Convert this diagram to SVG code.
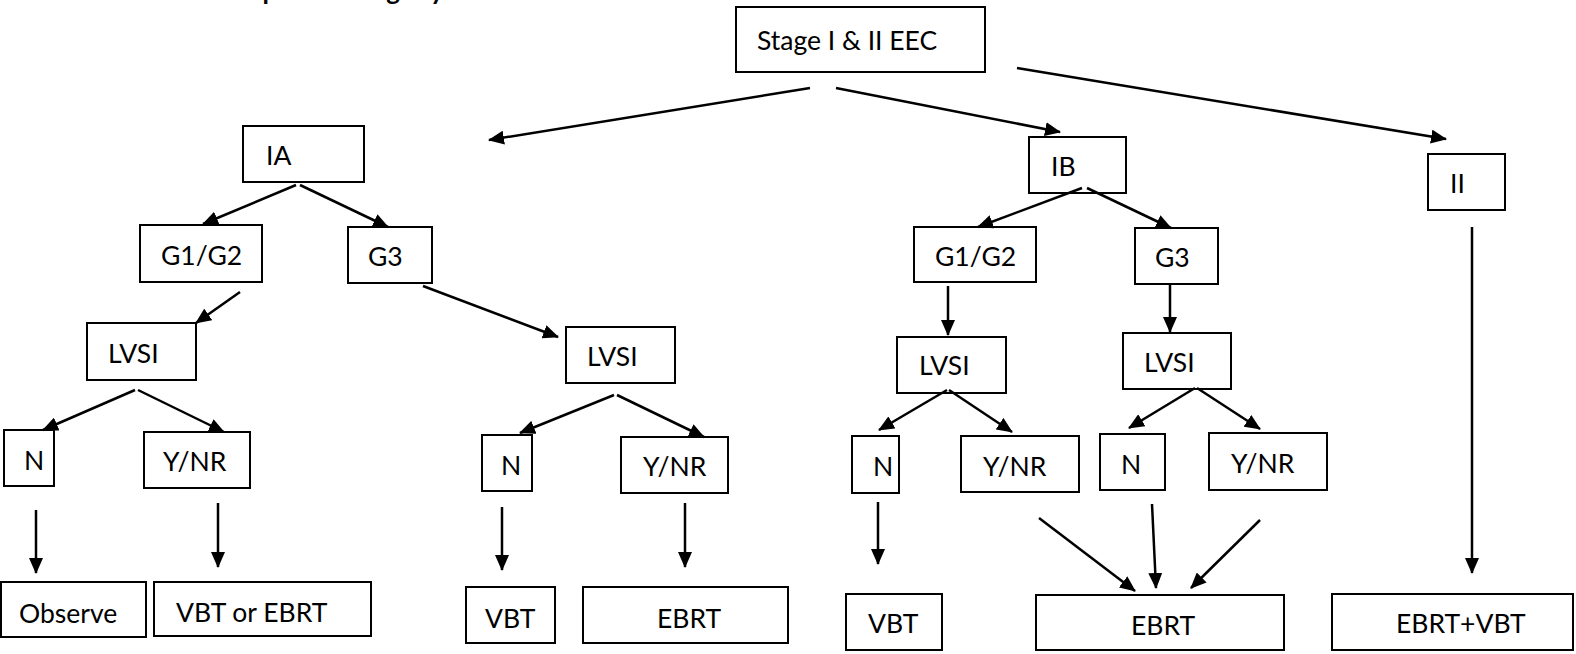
<svg xmlns="http://www.w3.org/2000/svg" width="1576" height="654" viewBox="0 0 1576 654">
<defs>
<marker id="ah" viewBox="0 0 16 14" refX="15" refY="7" markerWidth="16" markerHeight="14" markerUnits="userSpaceOnUse" orient="auto">
<path d="M0,0 L16,7 L0,14 z" fill="#000"/>
</marker>
<style>
.box{fill:#fff;stroke:#000;stroke-width:2}
.t{font-family:Lato,"Liberation Sans",sans-serif;font-size:26.5px;fill:#000}
.h{font-family:Lato,"Liberation Sans",sans-serif;font-size:26px;font-weight:bold;fill:#000;text-anchor:middle}
.c line{stroke:#000;stroke-width:2.5;marker-end:url(#ah)}
</style>
</defs>
<rect width="1576" height="654" fill="#fff"/>
<text class="h" y="0"><tspan x="270">p</tspan><tspan x="393">g</tspan><tspan x="437">y</tspan></text>

<g id="stage"><rect class="box" x="736" y="7" width="249" height="65"/><text class="t" x="757" y="50">Stage I &amp; II EEC</text></g>
<g id="ia"><rect class="box" x="243" y="126" width="121" height="56"/><text class="t" x="266" y="165">IA</text></g>
<g id="ib"><rect class="box" x="1029" y="137" width="97" height="56"/><text class="t" x="1051" y="176">IB</text></g>
<g id="ii"><rect class="box" x="1428" y="154" width="77" height="56"/><text class="t" x="1450" y="193">II</text></g>

<g id="ia-g12"><rect class="box" x="140" y="225" width="122" height="57"/><text class="t" x="161" y="265">G1/G2</text></g>
<g id="ia-g3"><rect class="box" x="348" y="227" width="84" height="56"/><text class="t" x="368" y="266">G3</text></g>
<g id="ib-g12"><rect class="box" x="914" y="227" width="122" height="55"/><text class="t" x="935" y="266">G1/G2</text></g>
<g id="ib-g3"><rect class="box" x="1135" y="228" width="83" height="56"/><text class="t" x="1155" y="267">G3</text></g>

<g id="ia-g12-lvsi"><rect class="box" x="87" y="323" width="109" height="57"/><text class="t" x="108" y="363">LVSI</text></g>
<g id="ia-g3-lvsi"><rect class="box" x="566" y="327" width="109" height="56"/><text class="t" x="587" y="366">LVSI</text></g>
<g id="ib-g12-lvsi"><rect class="box" x="897" y="337" width="109" height="56"/><text class="t" x="919" y="375">LVSI</text></g>
<g id="ib-g3-lvsi"><rect class="box" x="1123" y="333" width="108" height="56"/><text class="t" x="1144" y="372">LVSI</text></g>

<g id="ia-g12-n"><rect class="box" x="4" y="430" width="50" height="56"/><text class="t" x="24" y="470">N</text></g>
<g id="ia-g12-y"><rect class="box" x="144" y="432" width="106" height="56"/><text class="t" x="163" y="471">Y/NR</text></g>
<g id="ia-g3-n"><rect class="box" x="482" y="435" width="50" height="56"/><text class="t" x="501" y="475">N</text></g>
<g id="ia-g3-y"><rect class="box" x="621" y="437" width="107" height="56"/><text class="t" x="643" y="476">Y/NR</text></g>
<g id="ib-g12-n"><rect class="box" x="852" y="436" width="47" height="57"/><text class="t" x="873" y="476">N</text></g>
<g id="ib-g12-y"><rect class="box" x="961" y="436" width="118" height="56"/><text class="t" x="983" y="476">Y/NR</text></g>
<g id="ib-g3-n"><rect class="box" x="1100" y="434" width="65" height="56"/><text class="t" x="1121" y="474">N</text></g>
<g id="ib-g3-y"><rect class="box" x="1209" y="433" width="118" height="57"/><text class="t" x="1231" y="473">Y/NR</text></g>

<g id="observe"><rect class="box" x="1" y="582" width="145" height="55"/><text class="t" x="19" y="623">Observe</text></g>
<g id="vbt-ebrt"><rect class="box" x="154" y="582" width="217" height="54"/><text class="t" x="176" y="622">VBT or EBRT</text></g>
<g id="vbt1"><rect class="box" x="466" y="587" width="89" height="56"/><text class="t" x="485" y="628">VBT</text></g>
<g id="ebrt1"><rect class="box" x="583" y="587" width="205" height="56"/><text class="t" x="657" y="628">EBRT</text></g>
<g id="vbt2"><rect class="box" x="846" y="594" width="96" height="56"/><text class="t" x="868" y="633">VBT</text></g>
<g id="ebrt2"><rect class="box" x="1036" y="595" width="248" height="55"/><text class="t" x="1131" y="635">EBRT</text></g>
<g id="ebrt-vbt"><rect class="box" x="1332" y="594" width="241" height="56"/><text class="t" x="1396" y="633">EBRT+VBT</text></g>

<g id="connectors" class="c">
<line x1="810" y1="88" x2="489" y2="140"/>
<line x1="836" y1="88" x2="1060" y2="132"/>
<line x1="1017" y1="68" x2="1446" y2="139"/>
<line x1="296" y1="185" x2="203" y2="224"/>
<line x1="300" y1="185" x2="388" y2="227"/>
<line x1="240" y1="292" x2="196" y2="323"/>
<line x1="423" y1="286" x2="558" y2="337"/>
<line x1="135" y1="390" x2="43" y2="430"/>
<line x1="138" y1="390" x2="224" y2="432"/>
<line x1="614" y1="395" x2="520" y2="433"/>
<line x1="617" y1="395" x2="704" y2="437"/>
<line x1="36" y1="510" x2="36" y2="573"/>
<line x1="218" y1="503" x2="218" y2="567"/>
<line x1="502" y1="507" x2="502" y2="570"/>
<line x1="685" y1="503" x2="685" y2="567"/>
<line x1="1082" y1="188" x2="978" y2="227"/>
<line x1="1087" y1="188" x2="1171" y2="228"/>
<line x1="948" y1="286" x2="948" y2="335"/>
<line x1="1170" y1="284" x2="1170" y2="332"/>
<line x1="947" y1="390" x2="879" y2="430"/>
<line x1="949" y1="390" x2="1012" y2="432"/>
<line x1="1195" y1="388" x2="1129" y2="428"/>
<line x1="1197" y1="388" x2="1260" y2="429"/>
<line x1="878" y1="502" x2="878" y2="564"/>
<line x1="1039" y1="518" x2="1135" y2="591"/>
<line x1="1152" y1="504" x2="1156" y2="588"/>
<line x1="1260" y1="520" x2="1191" y2="588"/>
<line x1="1472" y1="227" x2="1472" y2="573"/>
</g>
</svg>
